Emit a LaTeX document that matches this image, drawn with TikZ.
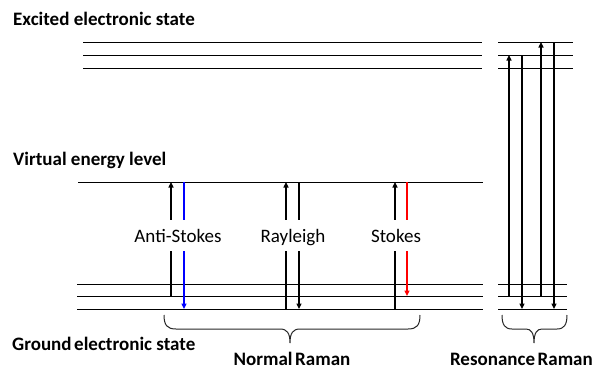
\documentclass[tikz,border=0pt]{standalone}
\usepackage{fontspec}
\setmainfont{Carlito}
\usetikzlibrary{arrows.meta}
\newcommand{\tsp}{\hspace{2.6pt}}
\begin{document}
\begin{tikzpicture}[x=1pt,y=-1pt,
  levelline/.style={line width=0.9pt},
  trans/.style={line width=1.2pt,-{Triangle[length=5.5pt,width=5pt]}},
  head/.style={font=\fontsize{19}{20}\selectfont\bfseries, anchor=base west, inner sep=0pt},
  headc/.style={font=\fontsize{19}{20}\selectfont\bfseries, anchor=base, inner sep=0pt},
  lab/.style={font=\fontsize{19}{20}\selectfont, fill=white, inner xsep=1pt, inner ysep=0pt, text height=13pt, text depth=0pt, minimum height=31pt},
  bracepath/.style={line width=1pt, draw=black!85}]
\useasboundingbox (0,0) rectangle (595,372);

% ---------- level coordinates ----------
\foreach \n/\y in {1/42,2/55,3/68}{
  \coordinate (exL\n) at (83,\y); \coordinate (exR\n) at (482,\y);
  \coordinate (rxL\n) at (498,\y); \coordinate (rxR\n) at (573,\y);
}
\coordinate (vL) at (78,182); \coordinate (vR) at (483,182);
\foreach \n/\y in {1/284,2/296,3/309}{
  \coordinate (gL\n) at (77,\y); \coordinate (gR\n) at (483,\y);
  \coordinate (rgL\n) at (498,\y); \coordinate (rgR\n) at (567,\y);
}

% ---------- levels ----------
\foreach \n in {1,2,3}{
  \draw[levelline] (exL\n) -- (exR\n);
  \draw[levelline] (rxL\n) -- (rxR\n);
  \draw[levelline] (gL\n) -- (gR\n);
  \draw[levelline] (rgL\n) -- (rgR\n);
}
\draw[levelline] (vL) -- (vR);

% ---------- Normal Raman transitions ----------
\coordinate (a1b) at (171,296); \coordinate (a1t) at (171,182);
\coordinate (a2t) at (184,182); \coordinate (a2b) at (184,309);
\coordinate (r1b) at (286,309); \coordinate (r1t) at (286,182);
\coordinate (r2t) at (299,182); \coordinate (r2b) at (299,309);
\coordinate (s1b) at (395,309); \coordinate (s1t) at (395,182);
\coordinate (s2t) at (407,182); \coordinate (s2b) at (407,296);

\draw[trans] (a1b) -- (a1t);
\draw[trans, draw=blue, fill=blue] (a2t) -- (a2b);
\draw[trans] (r1b) -- (r1t);
\draw[trans] (r2t) -- (r2b);
\draw[trans] (s1b) -- (s1t);
\draw[trans, draw=red, fill=red] (s2t) -- (s2b);

% ---------- Resonance Raman transitions ----------
\coordinate (q1b) at (509,296); \coordinate (q1t) at (509,55);
\coordinate (q2t) at (522,55);  \coordinate (q2b) at (522,309);
\coordinate (q3b) at (541,296); \coordinate (q3t) at (541,42);
\coordinate (q4t) at (554,42);  \coordinate (q4b) at (554,309);
\draw[trans] (q1b) -- (q1t);
\draw[trans] (q2t) -- (q2b);
\draw[trans] (q3b) -- (q3t);
\draw[trans] (q4t) -- (q4b);

% ---------- labels on transitions ----------
\node[lab] (antistokes) at (178,235.5) {Anti-Stokes};
\node[lab] (rayleigh) at (293,235.5) {Rayleigh};
\node[lab] (stokes) at (396,235.5) {Stokes};

% ---------- headings ----------
\node[head] (excited) at (13,25) {Excited electronic state};
\node[head] (virtual) at (13,165) {Virtual energy level};
\node[head] (ground) at (12,350) {Ground\tsp electronic state};
\node[headc] (normal) at (292,365) {Normal\tsp Raman};
\node[head, anchor=base east] (resonance) at (593,365) {Resonance\tsp Raman};

% ---------- braces ----------
\draw[bracepath] (164,315) .. controls (164,325) and (167,329) .. (176,329)
  -- (280,329) .. controls (287,329) and (290,333) .. (290,343)
  .. controls (290,333) and (293,329) .. (300,329)
  -- (408,329) .. controls (417,329) and (420,325) .. (420,315);
\draw[bracepath] (502,315) .. controls (502,325) and (505,329) .. (512,329)
  -- (526,329) .. controls (531,329) and (534,333) .. (534,343)
  .. controls (534,333) and (537,329) .. (542,329)
  -- (557,329) .. controls (564,329) and (567,325) .. (567,315);
\end{tikzpicture}
\end{document}
